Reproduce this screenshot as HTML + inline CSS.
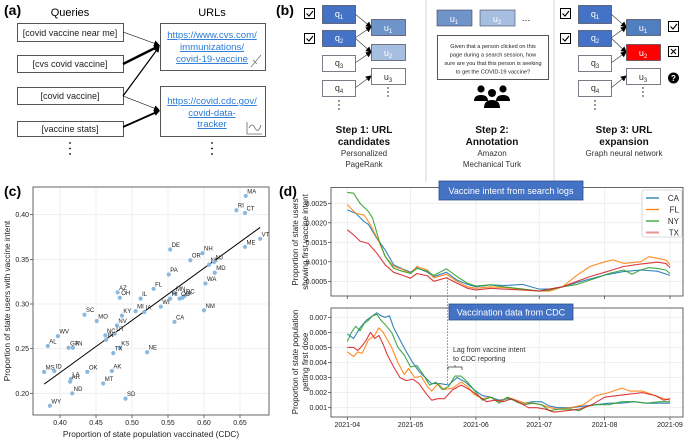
<!DOCTYPE html>
<html><head><meta charset="utf-8">
<style>
html,body{margin:0;padding:0;background:#fff;}
svg{display:block;font-family:"Liberation Sans",sans-serif;}
.lnk{fill:#2a7bd6;text-decoration:underline;font-size:9.6px;}
.tk{font-size:7px;fill:#222;}
.st{font-size:6px;fill:#222;}
</style></head><body>
<svg id="fig" width="685" height="442" viewBox="0 0 685 442" xmlns="http://www.w3.org/2000/svg">
<defs>
<marker id="ah" markerWidth="6" markerHeight="6" refX="5" refY="3" orient="auto" markerUnits="userSpaceOnUse"><path d="M0,0 L6,3 L0,6 z" fill="#000"/></marker>
</defs>
<!-- Panel a -->
<g>
<text x="4" y="15" font-size="14" font-weight="bold">(a)</text>
<text x="70" y="16" font-size="11" text-anchor="middle">Queries</text>
<text x="212" y="16" font-size="11" text-anchor="middle">URLs</text>
<g fill="#fff" stroke="#555" stroke-width="1">
<rect x="17.5" y="23.5" width="106" height="18"/>
<rect x="17.5" y="55.5" width="106" height="17"/>
<rect x="17.5" y="87.5" width="106" height="17"/>
<rect x="17.5" y="121.5" width="106" height="15"/>
<rect x="160.5" y="23.5" width="105" height="47"/>
<rect x="160.5" y="86.5" width="105" height="50"/>
</g>
<g font-size="9" text-anchor="middle" fill="#222">
<text x="70" y="36">[covid vaccine near me]</text>
<text x="70" y="67">[cvs covid vaccine]</text>
<text x="70" y="99">[covid vaccine]</text>
<text x="70" y="132">[vaccine stats]</text>
</g>
<g text-anchor="middle">
<text class="lnk" x="212" y="38">https://www.cvs.com/</text>
<text class="lnk" x="212" y="50">immunizations/</text>
<text class="lnk" x="212" y="62">covid-19-vaccine</text>
<text class="lnk" x="212" y="104">https://covid.cdc.gov/</text>
<text class="lnk" x="212" y="116">covid-data-</text>
<text class="lnk" x="212" y="127">tracker</text>
</g>
<path d="M251,67 L261,55 M253,60 L257,64" stroke="#777" fill="none" stroke-width="0.8"/>
<path d="M247,122 L247,134 L262,134 M249,128 q3,-6 6,0 q3,6 6,-3" stroke="#666" fill="none" stroke-width="0.8"/>
<g stroke="#000" fill="none" marker-end="url(#ah)">
<line x1="123" y1="32" x2="159" y2="45" stroke-width="0.6"/>
<line x1="123" y1="64" x2="159" y2="46" stroke-width="2.4"/>
<line x1="123" y1="96" x2="159" y2="47" stroke-width="1.2"/>
<line x1="123" y1="96" x2="159" y2="110" stroke-width="0.6"/>
<line x1="123" y1="127" x2="159" y2="111" stroke-width="1.8"/>
</g>
<g fill="#000"><circle cx="70" cy="143" r="0.9"/><circle cx="70" cy="148.5" r="0.9"/><circle cx="70" cy="154" r="0.9"/>
<circle cx="212" cy="143" r="0.9"/><circle cx="212" cy="148.5" r="0.9"/><circle cx="212" cy="154" r="0.9"/></g>
</g>
<!-- Panel b -->
<g>
<text x="276" y="15" font-size="14" font-weight="bold">(b)</text>
<line x1="426" y1="0" x2="426" y2="182" stroke="#cdd6e6"/>
<line x1="554" y1="0" x2="554" y2="182" stroke="#cdd6e6"/>
<g id="step1"></g>
<g id="step3"></g>
<rect x="437" y="10" width="35" height="16" fill="#6f94c9" stroke="#445" stroke-width="0.6"/>
<text x="454" y="22" font-size="9" fill="#fff" text-anchor="middle">u<tspan font-size="6" dy="2">1</tspan></text>
<rect x="480" y="10" width="35" height="16" fill="#a6bfe0" stroke="#445" stroke-width="0.6"/>
<text x="497" y="22" font-size="9" fill="#fff" text-anchor="middle">u<tspan font-size="6" dy="2">2</tspan></text>
<text x="526" y="21" font-size="9" text-anchor="middle">…</text>
<rect x="437.5" y="35.5" width="111" height="44" fill="#fff" stroke="#555"/>
<g font-size="5.6" text-anchor="middle" fill="#222">
<text x="493" y="48">Given that a person clicked on this</text>
<text x="493" y="56.5">page during a search session, how</text>
<text x="493" y="65">sure are you that this person is seeking</text>
<text x="493" y="73.5">to get the COVID-19 vaccine?</text>
</g>
<g fill="#000">
<circle cx="481" cy="89" r="3.6"/><circle cx="503" cy="89" r="3.6"/><circle cx="492" cy="93" r="4"/>
<path d="M474,101 q0,-6 7,-6 q7,0 7,6 z"/><path d="M496,101 q0,-6 7,-6 q7,0 7,6 z"/><path d="M484,108 q0,-8 8,-8 q8,0 8,8 z"/>
</g>
<g font-size="10" font-weight="bold" text-anchor="middle" fill="#111">
<text x="364" y="133">Step 1: URL</text><text x="364" y="145">candidates</text>
<text x="492" y="133">Step 2:</text><text x="492" y="145">Annotation</text>
<text x="624" y="133">Step 3: URL</text><text x="624" y="145">expansion</text>
</g>
<g font-size="8" text-anchor="middle" fill="#333">
<text x="364" y="156">Personalized</text><text x="364" y="167">PageRank</text>
<text x="492" y="156">Amazon</text><text x="492" y="167">Mechanical Turk</text>
<text x="624" y="156">Graph neural network</text>
</g>
<g>
<rect x="668.5" y="21.5" width="10" height="10" fill="#fff" stroke="#000"/><path d="M670.5,26.5 l2.5,2.5 l4,-5" stroke="#000" fill="none" stroke-width="1.1"/>
<rect x="668.5" y="46.5" width="10" height="10" fill="#fff" stroke="#000"/><path d="M671,49 l5,5 M676,49 l-5,5" stroke="#000" stroke-width="1.1"/>
<circle cx="673.5" cy="78" r="5.5" fill="#000"/><text x="673.5" y="81" font-size="8" font-weight="bold" fill="#fff" text-anchor="middle">?</text>
</g>
</g>
<!-- Panel c -->
<g id="pc">
<text x="4" y="196" font-size="14" font-weight="bold">(c)</text>
<text transform="translate(10,301) rotate(-90)" font-size="8.3" text-anchor="middle" fill="#222">Proportion of state users with vaccine intent</text>
<text x="151" y="437" font-size="8.3" text-anchor="middle" fill="#222">Proportion of state population vaccinated (CDC)</text>
</g>
<!-- Panel d -->
<g id="pd">
<text x="279" y="196" font-size="14" font-weight="bold">(d)</text>
<text transform="translate(298,242) rotate(-90)" font-size="8" text-anchor="middle" fill="#222">Proportion of state users</text>
<text transform="translate(308,242) rotate(-90)" font-size="8" text-anchor="middle" fill="#222">showing first vaccine intent</text>
<text transform="translate(298,362) rotate(-90)" font-size="8" text-anchor="middle" fill="#222">Proportion of state population</text>
<text transform="translate(308,362) rotate(-90)" font-size="8" text-anchor="middle" fill="#222">getting first dose</text>
</g>
</svg>
<script>
// ---------- Panel c data ----------
const states = ["MA","RI","CT","VT","ME","DE","NH","OR","NY","NJ","MD","PA","WA","FL","MN","DC","VA","CO","HI","AZ","OH","IL","MI","IA","WI","KY","NM","CA","SC","MO","NV","UT","NC","IN","KS","NE","TX","WV","AL","GA","TN","MS","ID","OK","AK","LA","AR","MT","ND","SD","WY"];
const vaccinated = [0.658,0.645,0.657,0.678,0.657,0.553,0.598,0.581,0.607,0.614,0.615,0.551,0.602,0.530,0.559,0.573,0.570,0.566,0.553,0.480,0.483,0.512,0.505,0.517,0.540,0.486,0.600,0.559,0.434,0.451,0.479,0.476,0.463,0.464,0.483,0.521,0.474,0.397,0.383,0.412,0.418,0.378,0.392,0.438,0.472,0.415,0.414,0.460,0.417,0.491,0.386];
const intent = [0.421,0.405,0.402,0.373,0.364,0.361,0.357,0.349,0.344,0.347,0.335,0.333,0.323,0.317,0.312,0.309,0.307,0.306,0.306,0.313,0.307,0.306,0.292,0.291,0.297,0.287,0.293,0.280,0.288,0.281,0.276,0.267,0.265,0.260,0.251,0.246,0.245,0.264,0.253,0.251,0.251,0.224,0.225,0.224,0.225,0.216,0.213,0.211,0.200,0.194,0.186];
const cxTicks = [0.40,0.45,0.50,0.55,0.60,0.65];
const cyTicks = [0.20,0.25,0.30,0.35,0.40];

// ---------- Panel d data ----------
const topCA_d=[0,4,8,10,14,18,22,26,30,33,38,41,47,52,57,61,68,74,83,91,96,102,109,115,122,131,139,147,153];
const topCA_v=[0.00233,0.00224,0.00203,0.00196,0.00160,0.00130,0.00092,0.00082,0.00073,0.00085,0.00073,0.00062,0.00073,0.00053,0.00042,0.00036,0.00041,0.00039,0.00042,0.00030,0.00030,0.00036,0.00047,0.00056,0.00066,0.00075,0.00079,0.00076,0.00065];
const topFL_d=[0,4,8,11,15,18,22,26,30,33,38,41,47,52,57,61,68,74,83,91,96,102,109,115,122,126,131,139,143,147,151,153];
const topFL_v=[0.00247,0.00224,0.00220,0.00194,0.00152,0.00113,0.00088,0.00081,0.00070,0.00088,0.00079,0.00059,0.00068,0.00050,0.00036,0.00032,0.00036,0.00034,0.00030,0.00025,0.00025,0.00036,0.00066,0.00088,0.00100,0.00105,0.00096,0.00100,0.00113,0.00109,0.00105,0.00092];
const topNY_d=[0,3,6,10,12,15,18,22,26,30,33,38,41,47,52,57,61,68,74,83,91,96,102,109,115,120,124,131,135,139,143,147,151,153];
const topNY_v=[0.00278,0.00276,0.00250,0.00229,0.00212,0.00156,0.00113,0.00083,0.00076,0.00070,0.00083,0.00076,0.00065,0.00082,0.00062,0.00045,0.00038,0.00041,0.00036,0.00030,0.00025,0.00028,0.00036,0.00042,0.00053,0.00062,0.00070,0.00079,0.00068,0.00079,0.00085,0.00083,0.00079,0.00070];
const topTX_d=[0,3,6,10,14,18,22,26,30,33,38,41,47,52,57,61,68,74,83,91,96,102,109,115,122,131,139,147,151,153];
const topTX_v=[0.00182,0.00169,0.00153,0.00147,0.00122,0.00092,0.00073,0.00066,0.00058,0.00070,0.00064,0.00050,0.00059,0.00045,0.00032,0.00028,0.00032,0.00030,0.00028,0.00025,0.00030,0.00036,0.00050,0.00062,0.00073,0.00088,0.00094,0.00099,0.00096,0.00085];
const botCA_d=[0,3,6,9,12,14,16,18,20,22,25,28,31,34,37,40,44,48,52,56,60,64,68,72,76,80,84,88,92,96,100,106,112,118,124,130,136,142,148,153];
const botCA_v=[0.0059,0.0056,0.0063,0.0068,0.0071,0.0073,0.0071,0.0070,0.0071,0.0063,0.0055,0.0047,0.0040,0.0034,0.0030,0.0026,0.0026,0.0025,0.0030,0.0027,0.0022,0.0018,0.0017,0.0015,0.0016,0.0015,0.0013,0.0014,0.0014,0.0011,0.0010,0.0010,0.0011,0.0012,0.0013,0.0013,0.0014,0.0013,0.0013,0.0013];
const botFL_d=[0,3,5,7,10,13,15,17,19,21,24,27,29,32,35,38,40,43,46,50,54,57,60,64,68,72,76,80,84,88,92,96,100,106,112,118,124,130,134,140,146,150,153];
const botFL_v=[0.0047,0.0044,0.0047,0.0046,0.0055,0.0058,0.0063,0.0060,0.0055,0.0050,0.0040,0.0032,0.0036,0.0030,0.0031,0.0024,0.0021,0.0026,0.0022,0.0023,0.0027,0.0024,0.0019,0.0016,0.0017,0.0014,0.0017,0.0015,0.0013,0.0013,0.0012,0.0010,0.0009,0.0010,0.0012,0.0018,0.0020,0.0023,0.0021,0.0021,0.0018,0.0016,0.0015];
const botNY_d=[0,2,4,6,8,10,12,14,16,18,21,24,27,30,33,36,39,42,45,48,51,54,57,60,64,68,72,76,80,84,88,92,96,100,106,110,114,118,124,130,136,142,148,153];
const botNY_v=[0.0054,0.0060,0.0064,0.0061,0.0066,0.0068,0.0071,0.0072,0.0068,0.0065,0.0060,0.0050,0.0045,0.0037,0.0038,0.0032,0.0025,0.0027,0.0022,0.0024,0.0031,0.0031,0.0027,0.0022,0.0015,0.0017,0.0013,0.0017,0.0014,0.0012,0.0013,0.0012,0.0008,0.0009,0.0009,0.0008,0.0011,0.0012,0.0012,0.0014,0.0014,0.0013,0.0014,0.0014];
const botTX_d=[0,3,5,7,9,11,13,15,17,19,22,25,28,31,34,37,40,43,46,50,54,58,62,66,70,74,78,82,86,90,94,98,104,110,116,122,128,134,140,146,150,153];
const botTX_v=[0.0050,0.0050,0.0048,0.0051,0.0055,0.0060,0.0056,0.0058,0.0052,0.0045,0.0037,0.0030,0.0028,0.0029,0.0026,0.0020,0.0015,0.0016,0.0016,0.0022,0.0025,0.0022,0.0018,0.0014,0.0015,0.0014,0.0016,0.0013,0.0010,0.0010,0.0009,0.0007,0.0008,0.0009,0.0012,0.0017,0.0018,0.0019,0.0020,0.0018,0.0015,0.0016];
const monthLabels=["2021-04","2021-05","2021-06","2021-07","2021-08","2021-09"];
const monthDays=[0,30,61,91,122,153];
const topTicks=[0.0005,0.0010,0.0015,0.0020,0.0025];
const topTickLabels=["0.0005","0.0010","0.0015","0.0020","0.0025"];
const botTicks=[0.001,0.002,0.003,0.004,0.005,0.006,0.007];
const botTickLabels=["0.001","0.002","0.003","0.004","0.005","0.006","0.007"];
const seriesNames=["CA","FL","NY","TX"];
const lagDay=47.5;

const NS="http://www.w3.org/2000/svg";
function mk(tag,attrs,parent){const e=document.createElementNS(NS,tag);for(const k in attrs)e.setAttribute(k,attrs[k]);parent.appendChild(e);return e;}

// ---------- Panel b graphs ----------
function drawStep(g,x0,ux,ufills,checks,prefix){
  const qy=[5,30,55,80], qh=[18,16,16,16];
  const qfill=["#4472c4","#4472c4","#fff","#fff"];
  const uy=[19,44,68];
  const edges=[[0,0],[1,0],[1,1],[2,1],[3,2]];
  edges.forEach((e,i)=>{const l=mk('line',{x1:x0+33,y1:qy[e[0]]+qh[e[0]]/2,x2:ux,y2:uy[e[1]]+8,stroke:'#333','stroke-width':0.6,'marker-end':'url(#ah)'},g);
    
    });
  for(let i=0;i<4;i++){const r=mk('rect',{x:x0+0.5,y:qy[i]+0.5,width:33,height:qh[i],fill:qfill[i],stroke:'#445','stroke-width':0.7},g);
    
    
    const t=mk('text',{x:x0+17,y:qy[i]+qh[i]/2+3,'font-size':9,'text-anchor':'middle',fill:i<2?'#fff':'#333'},g);
    t.innerHTML='q<tspan font-size="6" dy="2">'+(i+1)+'</tspan>';}
  for(let i=0;i<3;i++){const r=mk('rect',{x:ux+0.5,y:uy[i]+0.5,width:34,height:16,fill:ufills[i],stroke:'#445','stroke-width':0.7},g);
    
    
    const t=mk('text',{x:ux+17,y:uy[i]+12,'font-size':9,'text-anchor':'middle',fill:i<2?'#fff':'#333'},g);
    t.innerHTML='u<tspan font-size="6" dy="2">'+(i+1)+'</tspan>';}
  checks.forEach(cy=>{const cb=mk('rect',{x:x0-17.5,y:cy+0.5,width:10,height:10,fill:'#fff',stroke:'#000'},g);
    
    
    mk('path',{d:`M${x0-15.5},${cy+5.5} l2.5,2.5 l4,-5`,stroke:'#000',fill:'none','stroke-width':1.1},g);});
  [101,105,109].forEach(y=>mk('circle',{cx:x0+17,cy:y,r:0.7,fill:'#000'},g));
  [88,92,96].forEach(y=>mk('circle',{cx:ux+17,cy:y,r:0.7,fill:'#000'},g));
}
drawStep(document.getElementById('step1'),322,371,["#6f94c9","#a6bfe0","#fff"],[8,33],'step1');
drawStep(document.getElementById('step3'),578,626,["#4f7fbf","#ff0000","#fff"],[8,33],'step3');

// ---------- Panel c ----------
const pc=document.getElementById('pc');
const cL=33,cR=269,cT=187,cB=415;
const sx=v=>60+(v-0.40)*720;
const sy=v=>393.3-(v-0.20)*893;
cxTicks.forEach(t=>{const g=mk('line',{x1:sx(t),x2:sx(t),y1:cT,y2:cB,stroke:'#ebebeb','stroke-width':0.8},pc);
  
  
  mk('line',{x1:sx(t),x2:sx(t),y1:cB,y2:cB+3,stroke:'#333','stroke-width':0.7},pc);
  const l=mk('text',{x:sx(t),y:cB+10,'text-anchor':'middle',class:'tk'},pc);l.textContent=t.toFixed(2);
  
  });
cyTicks.forEach(t=>{const g=mk('line',{x1:cL,x2:cR,y1:sy(t),y2:sy(t),stroke:'#ebebeb','stroke-width':0.8},pc);
  
  
  mk('line',{x1:cL-3,x2:cL,y1:sy(t),y2:sy(t),stroke:'#333','stroke-width':0.7},pc);
  const l=mk('text',{x:cL-4,y:sy(t)+2.5,'text-anchor':'end',class:'tk'},pc);l.textContent=t.toFixed(2);
  
  });
const cframe=mk('rect',{x:cL,y:cT,width:cR-cL,height:cB-cT,fill:'none',stroke:'#555','stroke-width':0.9},pc);


// regression
const n=vaccinated.length;let mx=0,my=0;for(let i=0;i<n;i++){mx+=vaccinated[i];my+=intent[i];}mx/=n;my/=n;
let sxy=0,sxx=0;for(let i=0;i<n;i++){sxy+=(vaccinated[i]-mx)*(intent[i]-my);sxx+=(vaccinated[i]-mx)**2;}
const slope=sxy/sxx,icpt=my-slope*mx;
const xmin=Math.min(...vaccinated),xmax=Math.max(...vaccinated);
const rl=mk('line',{x1:sx(xmin),y1:sy(icpt+slope*xmin),x2:sx(xmax),y2:sy(icpt+slope*xmax),stroke:'#000','stroke-width':1},pc);


for(let i=0;i<n;i++){
  const p=mk('circle',{cx:sx(vaccinated[i]),cy:sy(intent[i]),r:2.1,fill:'#8ab8de'},pc);
  
  
  const t=mk('text',{x:sx(vaccinated[i])+1.5,y:sy(intent[i])-2.5,class:'st'},pc);t.textContent=states[i];
  
  
}

// ---------- Panel d ----------
const pd=document.getElementById('pd');
const dL=331,dR=683,tT=187.5,tB=296,bT=308,bB=417;
const dx=d=>347.3+d*(322.7/153);
const tyS=v=>300.8-v*39000;
const byS=v=>407.7-(v-0.001)*15070;
const colors=["#1f77b4","#ff7f0e","#2ca02c","#d62728"];
function axesFrame(top,bot,ticks,labels,ys,nm,showX){
  monthDays.forEach((d,i)=>{const g=mk('line',{x1:dx(d),x2:dx(d),y1:top,y2:bot,stroke:'#ebebeb','stroke-width':0.8},pd);
    
    
    mk('line',{x1:dx(d),x2:dx(d),y1:bot,y2:bot+3,stroke:'#333','stroke-width':0.7},pd);
    if(showX){const l=mk('text',{x:dx(d),y:bot+10,'text-anchor':'middle',class:'tk'},pd);l.textContent=monthLabels[i];
      
      }});
  ticks.forEach((t,i)=>{const g=mk('line',{x1:dL,x2:dR,y1:ys(t),y2:ys(t),stroke:'#ebebeb','stroke-width':0.8},pd);
    
    
    mk('line',{x1:dL-3,x2:dL,y1:ys(t),y2:ys(t),stroke:'#333','stroke-width':0.7},pd);
    const l=mk('text',{x:dL-4,y:ys(t)+2.5,'text-anchor':'end',class:'tk'},pd);l.textContent=labels[i];
    
    });
  const f=mk('rect',{x:dL,y:top,width:dR-dL,height:bot-top,fill:'none',stroke:'#555','stroke-width':0.9},pd);
  
  
}
axesFrame(tT,tB,topTicks,topTickLabels,tyS,'d-top',false);
axesFrame(bT,bB,botTicks,botTickLabels,byS,'d-bottom',true);
function series(ds,vs,ys,col,nm,alpha){
  const pts=ds.map((d,i)=>dx(d).toFixed(1)+','+ys(vs[i]).toFixed(1)).join(' ');
  const p=mk('polyline',{points:pts,fill:'none',stroke:col,'stroke-width':1.1,'stroke-linejoin':'round','stroke-opacity':alpha},pd);
  
  
}
const tops=[[topCA_d,topCA_v],[topFL_d,topFL_v],[topNY_d,topNY_v],[topTX_d,topTX_v]];
const bots=[[botCA_d,botCA_v],[botFL_d,botFL_v],[botNY_d,botNY_v],[botTX_d,botTX_v]];
tops.forEach((s,i)=>series(s[0],s[1],tyS,colors[i],'top-line-'+seriesNames[i].toLowerCase(),0.9));
bots.forEach((s,i)=>series(s[0],s[1],byS,colors[i],'bottom-line-'+seriesNames[i].toLowerCase(),0.9));
// lag line
const lg=mk('line',{x1:dx(lagDay),x2:dx(lagDay),y1:tyS(0.0006),y2:byS(0.0025),stroke:'#555','stroke-width':0.7,'stroke-dasharray':'1.5,1.5'},pd);


// title boxes
const b1=mk('rect',{x:439,y:181,width:144,height:19,fill:'#4472c4',stroke:'#2f4f8a','stroke-width':0.8},pd);


const b1t=mk('text',{x:511,y:194,'font-size':9,fill:'#fff','text-anchor':'middle'},pd);b1t.textContent='Vaccine intent from search logs';
const b2=mk('rect',{x:449,y:304,width:124,height:16,fill:'#4472c4',stroke:'#2f4f8a','stroke-width':0.8},pd);


const b2t=mk('text',{x:511,y:315.5,'font-size':9,fill:'#fff','text-anchor':'middle'},pd);b2t.textContent='Vaccination data from CDC';
// annotation
const a1=mk('text',{x:453,y:352,'font-size':7,fill:'#333'},pd);a1.textContent='Lag from vaccine intent';


const a2=mk('text',{x:453,y:361,'font-size':7,fill:'#333'},pd);a2.textContent='to CDC reporting';
mk('path',{d:'M448,370 v-3 h14 v3 M455,367 v-2',stroke:'#333',fill:'none','stroke-width':0.7},pd);
// legend
const lgBox=mk('rect',{x:642,y:190,width:40,height:47,fill:'#fff',stroke:'#ccc','stroke-width':0.8,rx:2},pd);


seriesNames.forEach((s,i)=>{const y=198+i*11.5;
  mk('line',{x1:646,x2:659,y1:y,y2:y,stroke:colors[i],'stroke-width':i==3?2:1.3,'stroke-opacity':i==3?0.5:1},pd);
  const t=mk('text',{x:679,y:y+3,'font-size':8,'text-anchor':'end',fill:'#222'},pd);t.textContent=s;
  
  });
</script>
</body></html>
